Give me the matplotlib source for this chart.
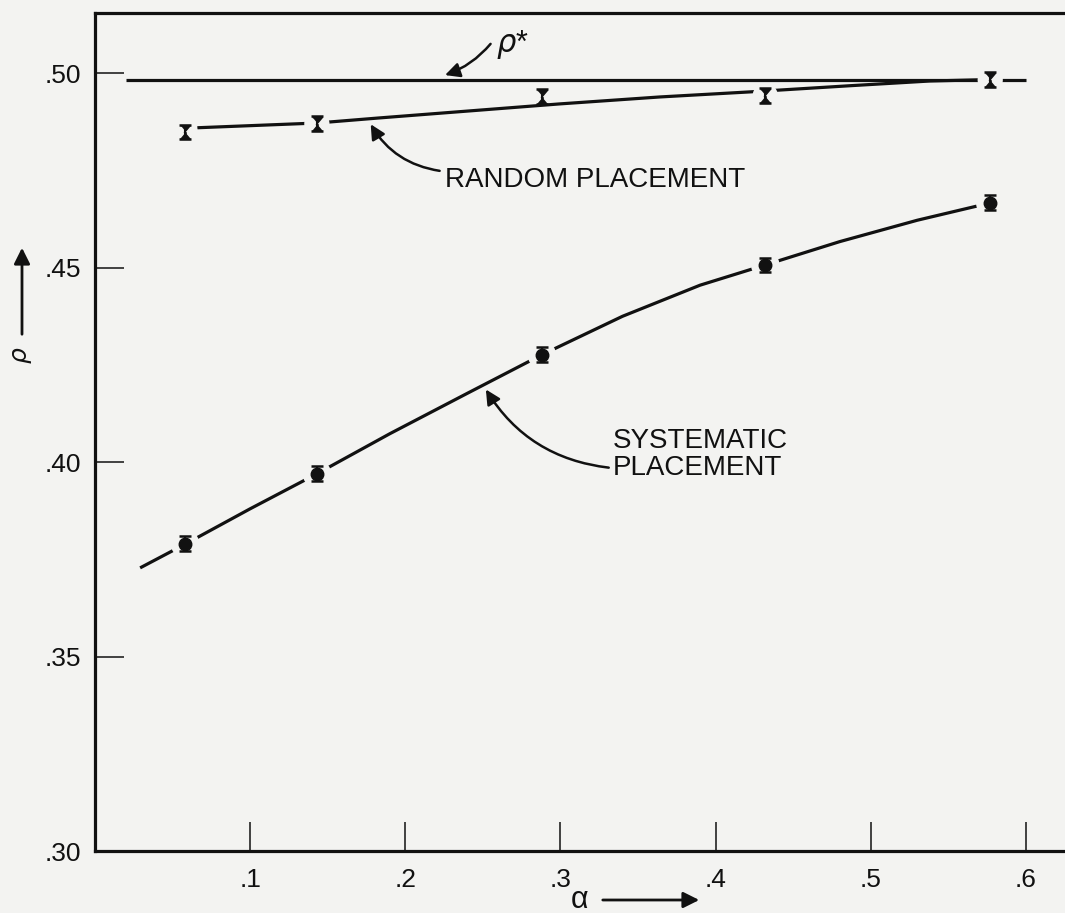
import numpy as np
import matplotlib.pyplot as plt

plt.rcParams['font.family'] = ['Liberation Sans', 'DejaVu Sans']

# measured points (alpha, rho)
alpha_pts = [0.058, 0.143, 0.288, 0.432, 0.577]
rho_random = [0.4849, 0.4870, 0.4940, 0.4942, 0.4983]
rho_system = [0.3790, 0.3970, 0.4276, 0.4507, 0.4667]
rho_star = 0.4983

# hand-drawn curves
rand_curve_x = [0.067, 0.143, 0.183, 0.241, 0.299, 0.364, 0.422, 0.487, 0.538, 0.569]
rand_curve_y = [0.4860, 0.4872, 0.4885, 0.4903, 0.4921, 0.4939, 0.4952, 0.4968, 0.4980, 0.4983]
sys_curve_x = [0.030, 0.059, 0.100, 0.143, 0.190, 0.240, 0.288, 0.340, 0.390, 0.432, 0.480, 0.530, 0.568]
sys_curve_y = [0.3730, 0.3791, 0.3880, 0.3970, 0.4073, 0.4177, 0.4276, 0.4375, 0.4455, 0.4507, 0.4567, 0.4622, 0.4658]
star_x = [0.020, 0.600]

xticks = [0.1, 0.2, 0.3, 0.4, 0.5, 0.6]
xlabels = ['.1', '.2', '.3', '.4', '.5', '.6']
yticks = [0.30, 0.35, 0.40, 0.45, 0.50]
ylabels = ['.30', '.35', '.40', '.45', '.50']

bg = '#f3f3f1'
ink = '#111111'

fig = plt.figure(figsize=(10.65, 9.13), dpi=100, facecolor=bg)
ax = fig.add_axes([0.0892, 0.0679, 0.9108, 0.9179], facecolor=bg)
ax.set_xlim(0, 0.6252)
ax.set_ylim(0.30, 0.5155)

ax.spines['right'].set_visible(False)
for s in ['left', 'bottom', 'top']:
    ax.spines[s].set_linewidth(2.3)
    ax.spines[s].set_color(ink)

ax.set_xticks(xticks)
ax.set_xticklabels(xlabels)
ax.set_yticks(yticks)
ax.set_yticklabels(ylabels)
ax.tick_params(direction='in', length=21, width=1.1, color=ink,
               labelsize=19, labelcolor=ink)
ax.tick_params(axis='x', pad=12)
ax.tick_params(axis='y', pad=10)

# curves
lw = 2.3
ax.plot(star_x, [rho_star, rho_star], color=ink, lw=lw, zorder=2,
        solid_capstyle='butt')
ax.plot(rand_curve_x, rand_curve_y, color=ink, lw=lw, zorder=2)
ax.plot(sys_curve_x, sys_curve_y, color=ink, lw=lw, zorder=2)

# white gaps round the symbols
gap_rand = [True, True, False, True, True]
ax.scatter([a for a, g in zip(alpha_pts, gap_rand) if g],
           [r for r, g in zip(rho_random, gap_rand) if g],
           s=330, color=bg, edgecolors='none', zorder=3)
ax.scatter(alpha_pts, rho_system, s=420, color=bg, edgecolors='none', zorder=3)

hourglass = [(-0.7, 1), (0.7, 1), (-0.15, 0), (0.7, -1), (-0.7, -1), (0.15, 0)]
ax.errorbar(alpha_pts, rho_random, yerr=0.0019, fmt='none', ecolor=ink,
            elinewidth=1.5, capsize=4, capthick=1.8, zorder=4)
ax.plot(alpha_pts, rho_random, ls='none', marker=hourglass, ms=10,
        color=ink, zorder=5)
ax.errorbar(alpha_pts, rho_system, yerr=0.0019, fmt='none', ecolor=ink,
            elinewidth=1.5, capsize=4, capthick=1.8, zorder=4)
ax.plot(alpha_pts, rho_system, ls='none', marker='o', ms=9,
        color=ink, zorder=5)

# labels with arrows
arrow = dict(arrowstyle='-|>', color=ink, lw=1.8, mutation_scale=22)
ax.annotate('', xy=(0.2239, 0.4993), xytext=(0.2561, 0.5081),
            arrowprops=dict(connectionstyle='arc3,rad=-0.15', **arrow))
ax.text(0.2585, 0.5073, r'$\rho$*', fontsize=22, va='center', ha='left',
        color=ink)

ax.annotate('', xy=(0.1768, 0.4875), xytext=(0.2239, 0.4748),
            arrowprops=dict(connectionstyle='arc3,rad=-0.25', **arrow))
ax.text(0.2255, 0.4726, 'RANDOM PLACEMENT', fontsize=20, va='center',
        ha='left', color=ink)

ax.annotate('', xy=(0.2510, 0.4193), xytext=(0.3329, 0.3985),
            arrowprops=dict(connectionstyle='arc3,rad=-0.25', **arrow))
ax.text(0.3335, 0.4019, 'SYSTEMATIC\nPLACEMENT', fontsize=20, va='center',
        ha='left', color=ink, linespacing=1.05)

# axis names with arrows
fig.text(22 / 1065, 558 / 913, r'$\rho$', rotation=90, fontsize=18,
         ha='center', va='center', color=ink)
ax.annotate('', xy=(22, 668), xytext=(22, 576), xycoords='figure pixels',
            textcoords='figure pixels',
            arrowprops=dict(arrowstyle='-|>', color=ink, lw=2, mutation_scale=24))
fig.text(580 / 1065, 13 / 913, 'α', fontsize=22, ha='center',
         va='center', color=ink)
ax.annotate('', xy=(702, 13), xytext=(600, 13), xycoords='figure pixels',
            textcoords='figure pixels',
            arrowprops=dict(arrowstyle='-|>', color=ink, lw=2, mutation_scale=24))

fig.savefig('out.png', dpi=100, facecolor=bg)
